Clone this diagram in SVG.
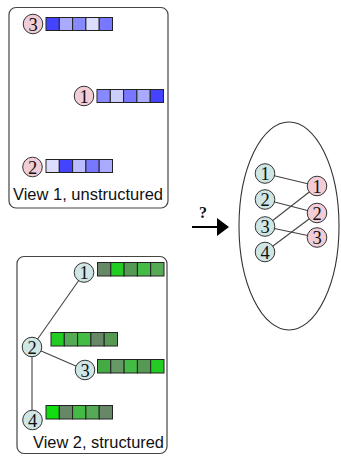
<svg xmlns="http://www.w3.org/2000/svg" width="341" height="456" viewBox="0 0 341 456">
<style>
.frame{fill:#fff;stroke:#444;stroke-width:1.2}
.cell{stroke:#222;stroke-width:1}
.pink{fill:#f2cdd6;stroke:#333;stroke-width:1}
.teal{fill:#cfe6e4;stroke:#333;stroke-width:1}
.num{font-family:"Liberation Serif","DejaVu Serif",serif;font-size:18.5px;text-anchor:middle;fill:#111}
.cap{font-family:"Liberation Sans",Arial,sans-serif;font-size:16.4px;fill:#111}
.edge{stroke:#444;stroke-width:1.1;fill:none}
</style>
<rect width="341" height="456" fill="#fff"/>

<g id="view1">
<rect class="frame" x="9" y="7.5" width="159" height="200.5" rx="7"/>
<text class="cap" x="13" y="200" textLength="150" lengthAdjust="spacingAndGlyphs">View 1, unstructured</text>
</g>
<g id="v1-node3">
<circle class="pink" cx="33" cy="24" r="9.8"/>
<text class="num" x="33" y="30.5">3</text>
<g class="cell">
<rect x="46" y="17.5" width="13.3" height="13" fill="#4444ff"/>
<rect x="59.3" y="17.5" width="13.3" height="13" fill="#aaaaff"/>
<rect x="72.6" y="17.5" width="13.3" height="13" fill="#8888ff"/>
<rect x="85.9" y="17.5" width="13.3" height="13" fill="#ddddff"/>
<rect x="99.2" y="17.5" width="13.3" height="13" fill="#7777ff"/>
</g>
</g>
<g id="v1-node1">
<circle class="pink" cx="84" cy="96" r="9.8"/>
<text class="num" x="84" y="102.5">1</text>
<g class="cell">
<rect x="97" y="89.5" width="13.3" height="13" fill="#8888ff"/>
<rect x="110.3" y="89.5" width="13.3" height="13" fill="#ccccff"/>
<rect x="123.6" y="89.5" width="13.3" height="13" fill="#7777ff"/>
<rect x="136.9" y="89.5" width="13.3" height="13" fill="#aaaaff"/>
<rect x="150.2" y="89.5" width="13.3" height="13" fill="#4444ff"/>
</g>
</g>
<g id="v1-node2">
<circle class="pink" cx="32.5" cy="167" r="9.8"/>
<text class="num" x="32.5" y="173.5">2</text>
<g class="cell">
<rect x="46" y="159.5" width="13.3" height="13" fill="#ddddff"/>
<rect x="59.3" y="159.5" width="13.3" height="13" fill="#4444ff"/>
<rect x="72.6" y="159.5" width="13.3" height="13" fill="#bbbbff"/>
<rect x="85.9" y="159.5" width="13.3" height="13" fill="#7777ff"/>
<rect x="99.2" y="159.5" width="13.3" height="13" fill="#aaaaff"/>
</g>
</g>

<g id="view2">
<rect class="frame" x="17" y="256.5" width="150" height="197" rx="7"/>
<text class="cap" x="33" y="448" textLength="131" lengthAdjust="spacingAndGlyphs">View 2, structured</text>
</g>
<g id="v2-edges">
<line class="edge" x1="32" y1="347" x2="84" y2="273"/>
<line class="edge" x1="32" y1="347" x2="85" y2="370"/>
<line class="edge" x1="32" y1="347" x2="32" y2="420"/>
</g>
<g id="v2-node1">
<circle class="teal" cx="84" cy="272.5" r="9.8"/>
<text class="num" x="84" y="279">1</text>
<g class="cell">
<rect x="97.5" y="262.5" width="13.3" height="13.5" fill="#668866"/>
<rect x="110.8" y="262.5" width="13.3" height="13.5" fill="#22cc22"/>
<rect x="124.1" y="262.5" width="13.3" height="13.5" fill="#559955"/>
<rect x="137.4" y="262.5" width="13.3" height="13.5" fill="#44bb44"/>
<rect x="150.7" y="262.5" width="13.3" height="13.5" fill="#55aa55"/>
</g>
</g>
<g id="v2-bar">
<g class="cell">
<rect x="51" y="332.5" width="13.3" height="13.5" fill="#22cc22"/>
<rect x="64.3" y="332.5" width="13.3" height="13.5" fill="#55aa55"/>
<rect x="77.6" y="332.5" width="13.3" height="13.5" fill="#44bb44"/>
<rect x="90.9" y="332.5" width="13.3" height="13.5" fill="#668866"/>
<rect x="104.2" y="332.5" width="13.3" height="13.5" fill="#559955"/>
</g>
</g>
<g id="v2-node2">
<circle class="teal" cx="32" cy="347" r="9.8"/>
<text class="num" x="32" y="353.5">2</text>
</g>
<g id="v2-node3">
<circle class="teal" cx="85" cy="370" r="9.8"/>
<text class="num" x="85" y="376.5">3</text>
<g class="cell">
<rect x="97.5" y="359.5" width="13.3" height="13.5" fill="#44aa44"/>
<rect x="110.8" y="359.5" width="13.3" height="13.5" fill="#669966"/>
<rect x="124.1" y="359.5" width="13.3" height="13.5" fill="#44bb44"/>
<rect x="137.4" y="359.5" width="13.3" height="13.5" fill="#559955"/>
<rect x="150.7" y="359.5" width="13.3" height="13.5" fill="#22cc22"/>
</g>
</g>
<g id="v2-node4">
<circle class="teal" cx="32.5" cy="420" r="9.8"/>
<text class="num" x="32.5" y="426.5">4</text>
<g class="cell">
<rect x="46" y="405.5" width="13.3" height="13.5" fill="#11dd11"/>
<rect x="59.3" y="405.5" width="13.3" height="13.5" fill="#668866"/>
<rect x="72.6" y="405.5" width="13.3" height="13.5" fill="#44bb44"/>
<rect x="85.9" y="405.5" width="13.3" height="13.5" fill="#55aa55"/>
<rect x="99.2" y="405.5" width="13.3" height="13.5" fill="#668866"/>
</g>
</g>

<g id="arrow">
<line x1="192" y1="227" x2="218" y2="227" stroke="#000" stroke-width="2"/>
<polygon points="217,218 229,227 217,236" fill="#000"/>
<text x="203" y="218" font-family="'Liberation Serif','DejaVu Serif',serif" font-size="16" font-weight="bold" text-anchor="middle" fill="#111">?</text>
</g>

<g id="result">
<ellipse cx="289" cy="226" rx="50" ry="104" fill="#fff" stroke="#333" stroke-width="1.1"/>
</g>
<g id="result-edges">
<line class="edge" x1="265" y1="173.5" x2="317" y2="186"/>
<line class="edge" x1="265" y1="199.5" x2="317" y2="213"/>
<line class="edge" x1="265" y1="226.5" x2="317" y2="186"/>
<line class="edge" x1="265" y1="226.5" x2="317" y2="237.5"/>
<line class="edge" x1="265" y1="252" x2="317" y2="213"/>
</g>
<g id="r-t1"><circle class="teal" cx="265" cy="173.5" r="9.8"/><text class="num" x="265" y="180">1</text></g>
<g id="r-t2"><circle class="teal" cx="265" cy="199.5" r="9.8"/><text class="num" x="265" y="206">2</text></g>
<g id="r-t3"><circle class="teal" cx="265" cy="226.5" r="9.8"/><text class="num" x="265" y="233">3</text></g>
<g id="r-t4"><circle class="teal" cx="265" cy="252" r="9.8"/><text class="num" x="265" y="258.5">4</text></g>
<g id="r-p1"><circle class="pink" cx="317" cy="186" r="9.8"/><text class="num" x="317" y="192.5">1</text></g>
<g id="r-p2"><circle class="pink" cx="317" cy="213" r="9.8"/><text class="num" x="317" y="219.5">2</text></g>
<g id="r-p3"><circle class="pink" cx="317" cy="237.5" r="9.8"/><text class="num" x="317" y="244">3</text></g>
</svg>
